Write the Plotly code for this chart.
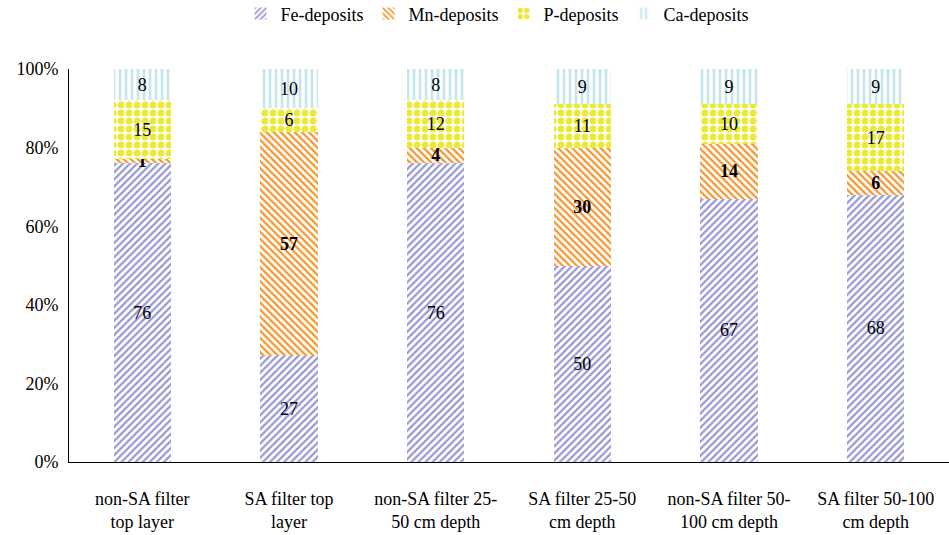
import plotly.graph_objects as go

categories = [
    "non-SA filter<br>top layer",
    "SA filter top<br>layer",
    "non-SA filter 25-<br>50 cm depth",
    "SA filter 25-50<br>cm depth",
    "non-SA filter 50-<br>100 cm depth",
    "SA filter 50-100<br>cm depth",
]
fe = [76, 27, 76, 50, 67, 68]
mn = [1, 57, 4, 30, 14, 6]
p = [15, 6, 12, 11, 10, 17]
ca = [8, 10, 8, 9, 9, 9]

FONT = "Palatino Linotype, Book Antiqua, Palatino, Liberation Serif, serif"

series = [
    ("Fe-deposits", fe, "#9797d6", "/", 5, 0.45, "%{text}"),
    ("Mn-deposits", mn, "#f5952c", "\\", 5, 0.45, "<b>%{text}</b>"),
    ("P-deposits", p, "#ebe83c", ".", 8, 0.6, "%{text}"),
    ("Ca-deposits", ca, "#c6e6ee", "|", 6, 0.45, "%{text}"),
]

fig = go.Figure()
for name, vals, color, shape, size, solidity, tmpl in series:
    fig.add_trace(go.Bar(
        name=name,
        x=categories,
        y=vals,
        text=vals,
        texttemplate=tmpl,
        textposition="inside",
        textangle=0,
        insidetextanchor="middle",
        textfont=dict(color="black", size=18, family=FONT),
        marker=dict(
            color="white",
            line=dict(width=0),
            pattern=dict(shape=shape, fgcolor=color, bgcolor="white",
                         size=size, solidity=solidity, fillmode="replace"),
        ),
    ))

fig.update_layout(
    barmode="stack",
    bargap=0.61,
    width=949,
    height=535,
    margin=dict(l=69, r=0, t=69, b=73, autoexpand=False),
    plot_bgcolor="white",
    paper_bgcolor="white",
    font=dict(family=FONT, size=18, color="black"),
    uniformtext=dict(minsize=18, mode="show"),
    legend=dict(orientation="h", x=0.487, xanchor="center",
                yref="container", y=0.974, yanchor="middle",
                font=dict(size=18), traceorder="normal", itemwidth=30),
    showlegend=True,
)
fig.update_yaxes(range=[0, 100], dtick=20, ticksuffix="%", showgrid=False,
                 showline=True, linecolor="black", linewidth=1, ticks="",
                 tickfont=dict(size=18), ticklabelstandoff=6, automargin=False)
fig.update_xaxes(showline=True, linecolor="black", linewidth=1, ticks="",
                 tickfont=dict(size=18), ticklabelstandoff=20, automargin=False)

# page body has a default 8px margin; drop it so the figure fills the window
fig.write_html("out.html", config={"displayModeBar": False},
               post_script="document.body.style.margin = '0';")
